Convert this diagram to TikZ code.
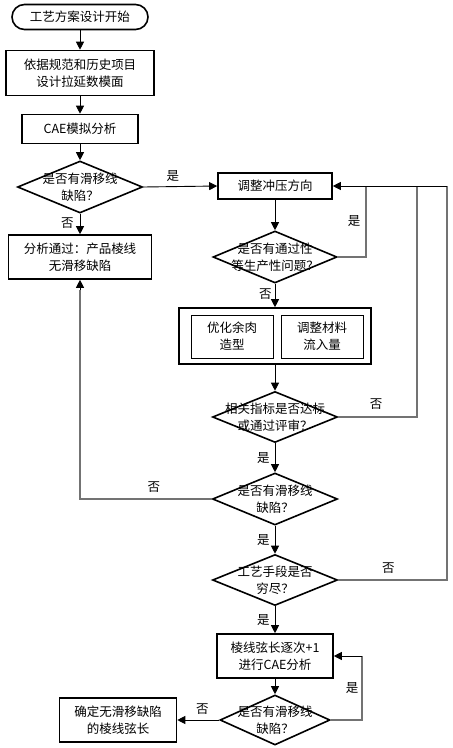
\documentclass[tikz,border=0pt]{standalone}
\usepackage{fontspec}
\setmainfont{Noto Sans CJK SC}
\usetikzlibrary{shapes.geometric,arrows.meta}
\begin{document}
\begin{tikzpicture}[x=1pt,y=-1pt,
  font=\fontsize{12.5}{17}\selectfont,
  box/.style={draw,line width=1.6pt,align=center,inner sep=0pt},
  thinbox/.style={draw,line width=0.9pt,align=center,inner sep=0pt,minimum width=82pt,minimum height=43pt},
  dia/.style={diamond,draw,line width=1.6pt,inner sep=0pt},
  txt/.style={align=center,inner sep=0pt},
  arr/.style={draw,line width=0.9pt,-{Triangle[length=8pt,width=8pt]}},
  gline/.style={draw,line width=1.1pt,black!55},
  lab/.style={inner sep=0pt}]
\useasboundingbox (0,0) rectangle (453,748);
% nodes
\node[box,rounded corners=12.5pt,minimum width=136pt,minimum height=25pt] (start) at (80,17) {工艺方案设计开始};
\node[box,minimum width=148pt,minimum height=45pt] (b1) at (80,73) {依据规范和历史项目\\设计拉延数模面};
\node[box,minimum width=116pt,minimum height=29pt] (b2) at (80,129) {CAE模拟分析};
\node[dia,minimum width=125pt,minimum height=52pt] (d1) at (80,187) {};
\node[txt] at (d1) {是否有滑移线\\缺陷？};
\node[box,minimum width=143pt,minimum height=44pt] (pass) at (80,257) {分析通过：产品棱线\\无滑移缺陷};
\node[box,minimum width=114pt,minimum height=26pt] (adj) at (275,186) {调整冲压方向};
\node[dia,minimum width=124pt,minimum height=52pt] (d2) at (275,257) {};
\node[txt] at (d2) {是否有通过性\\等生产性问题？};
\node[box,minimum width=192pt,minimum height=56pt] (outer) at (275,336) {};
\node[thinbox] (opt) at (232,336.5) {优化余肉\\造型};
\node[thinbox] (mat) at (322,336.5) {调整材料\\流入量};
\node[dia,minimum width=125pt,minimum height=51pt] (d3) at (275,417) {};
\node[txt] at (d3) {相关指标是否达标\\或通过评审？};
\node[dia,minimum width=125pt,minimum height=52pt] (d4) at (275,499) {};
\node[txt] at (d4) {是否有滑移线\\缺陷？};
\node[dia,minimum width=125pt,minimum height=51pt] (d5) at (275,580) {};
\node[txt] at (d5) {工艺手段是否\\穷尽？};
\node[box,minimum width=116pt,minimum height=44pt] (b7) at (275,656) {棱线弦长逐次+1\\进行CAE分析};
\node[dia,minimum width=110pt,minimum height=50pt] (d6) at (275,720) {};
\node[txt] at (d6) {是否有滑移线\\缺陷？};
\node[box,minimum width=117pt,minimum height=44pt] (fin) at (118,720) {确定无滑移缺陷\\的棱线弦长};
% helper coordinates
\coordinate (l2) at (366,186);
\coordinate (l3) at (417,186);
\coordinate (l4) at (447,186);
\coordinate (l6) at (362,656);
\coordinate (up) at (80,290);
% main flow
\draw[arr] (start) -- (b1);
\draw[arr] (b1) -- (b2);
\draw[arr] (b2) -- (d1);
\draw[arr] (d1) -- (pass) node[lab,pos=0.45,left=6pt] {否};
\draw[arr] (d1.east) -- (adj.west) node[lab,pos=0.4,above=5pt] {是};
\draw[arr] (adj) -- (d2);
\draw[arr] (d2) -- (outer) node[lab,pos=0.45,left=3pt] {否};
\draw[arr] (outer) -- (d3);
\draw[arr] (d3) -- (d4) node[lab,midway,left=5pt] {是};
\draw[arr] (d4) -- (d5) node[lab,midway,left=5pt] {是};
\draw[arr] (d5) -- (b7) node[lab,midway,left=5pt] {是};
\draw[arr] (b7) -- (d6);
\draw[arr] (d6.west) -- (fin.east) node[lab,pos=0.4,above=5pt] {否};
% loops
\draw[gline] (d2.east) -| (l2) node[lab,pos=0.75,left=5pt,black] {是};
\draw[gline] (d3.east) -| (l3) node[lab,pos=0.24,above=7pt,black] {否};
\draw[gline] (d5.east) -| (l4) node[lab,pos=0.23,above=6pt,black] {否};
\draw[arr] (l4) -- (adj.east);
\draw[gline] (d4.west) -| (up) node[lab,pos=0.22,above=6pt,black] {否};
\draw[arr] (up) -- (pass.south);
\draw[gline] (d6.east) -| (l6) node[lab,pos=0.75,left=3pt,black] {是};
\draw[arr] (l6) -- (b7.east);
\end{tikzpicture}
\end{document}
